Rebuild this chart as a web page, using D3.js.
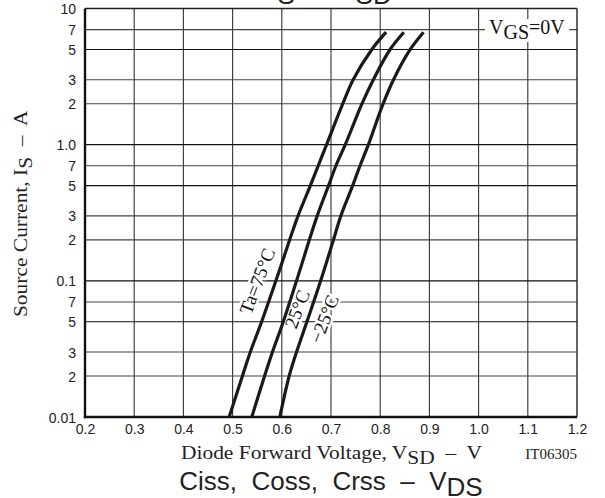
<!DOCTYPE html>
<html>
<head>
<meta charset="utf-8">
<script src="https://cdn.jsdelivr.net/npm/d3@7/dist/d3.min.js"></script>
<style>
  html, body { margin: 0; padding: 0; background: #fff; }
  svg { display: block; }
  text { white-space: pre; }
</style>
</head>
<body>
<svg id="chart" width="605" height="498"></svg>
<script>
// ---- data ----
const currents = [0.01, 0.02, 0.03, 0.05, 0.1, 0.2, 0.3, 0.5, 0.7, 1, 2, 3, 5, 6.7];
const vsd75  = [0.493, 0.520, 0.536, 0.559, 0.588, 0.616, 0.633, 0.658, 0.674, 0.691, 0.724, 0.745, 0.783, 0.812];
const vsd25  = [0.539, 0.565, 0.581, 0.603, 0.630, 0.656, 0.672, 0.695, 0.710, 0.729, 0.763, 0.786, 0.820, 0.848];
const vsdM25 = [0.596, 0.615, 0.630, 0.651, 0.679, 0.705, 0.720, 0.744, 0.759, 0.776, 0.806, 0.827, 0.861, 0.888];
const seriesNames = ["Ta=75°C", "25°C", "\u221225°C"];
const xTicks = [0.2, 0.3, 0.4, 0.5, 0.6, 0.7, 0.8, 0.9, 1.0, 1.1, 1.2];
const xTickLabels = ["0.2","0.3","0.4","0.5","0.6","0.7","0.8","0.9","1.0","1.1","1.2"];
const yTicks = [10, 7, 5, 3, 2, 1, 0.7, 0.5, 0.3, 0.2, 0.1, 0.07, 0.05, 0.03, 0.02, 0.01];
const yTickLabels = ["10","7","5","3","2","1.0","7","5","3","2","0.1","7","5","3","2","0.01"];

// ---- layout ----
const L = 85, R = 577, T = 8.5, B = 417;
const svg = d3.select("#chart");
const x = d3.scaleLinear().domain([0.2, 1.2]).range([L, R]);
const y = d3.scaleLog().domain([0.01, 10]).range([B, T]);

const serif = "'Liberation Serif','Times New Roman',serif";
const sans = "'Liberation Sans',Arial,sans-serif";
const stretch = 1.1;

// top title (mostly cut off at the top edge)
const topTitle = svg.append("text").attr("x", (L + R) / 2).attr("y", -2)
  .attr("text-anchor", "middle").style("font-family", sans).style("font-size", "26px").attr("fill", "#222");
topTitle.append("tspan").text("I");
topTitle.append("tspan").attr("dy", 6).text("S");
topTitle.append("tspan").attr("dy", -6).text("  \u2013  V");
topTitle.append("tspan").attr("dy", 6).text("SD");

// grid
const mant = d => d / Math.pow(10, Math.floor(Math.log10(d) + 1e-9));
const g = svg.append("g");
g.selectAll("line.v").data(xTicks.slice(1, -1)).enter().append("line")
  .attr("x1", d => x(d)).attr("x2", d => x(d)).attr("y1", T).attr("y2", B)
  .attr("stroke", "#333").attr("stroke-width", 1.1);
g.selectAll("line.h").data(yTicks.slice(1, -1)).enter().append("line")
  .attr("x1", L).attr("x2", R).attr("y1", d => y(d)).attr("y2", d => y(d))
  .attr("stroke", d => { const m = mant(d); return (Math.abs(m - 1) < 1e-6 || Math.abs(m - 5) < 1e-6) ? "#111" : "#444"; })
  .attr("stroke-width", d => Math.abs(mant(d) - 1) < 1e-6 ? 1.4 : 1.1);

// frame
svg.append("line").attr("x1", L).attr("x2", R).attr("y1", T).attr("y2", T).attr("stroke", "#222").attr("stroke-width", 1.4);
svg.append("line").attr("x1", R).attr("x2", R).attr("y1", T).attr("y2", B).attr("stroke", "#222").attr("stroke-width", 1.4);
svg.append("line").attr("x1", L).attr("x2", L).attr("y1", T).attr("y2", B + 1.2).attr("stroke", "#111").attr("stroke-width", 2.4);
svg.append("line").attr("x1", L - 1.2).attr("x2", R).attr("y1", B).attr("y2", B).attr("stroke", "#111").attr("stroke-width", 2.4);

// axis tick labels
const xAxis = d3.axisBottom(x).tickValues(xTicks).tickSize(0).tickPadding(0)
  .tickFormat((d, i) => xTickLabels[i]);
const xa = svg.append("g").attr("transform", `translate(0,${B})`).call(xAxis);
xa.select(".domain").remove();
xa.selectAll("text").attr("dy", 0).attr("y", 16.5).style("font-family", sans).style("font-size", "14px").attr("fill", "#222");

const yAxis = d3.axisLeft(y).tickValues(yTicks).tickSize(0).tickPadding(0)
  .tickFormat((d, i) => yTickLabels[i]);
const ya = svg.append("g").attr("transform", `translate(${L},0)`).call(yAxis);
ya.select(".domain").remove();
ya.selectAll("text").attr("x", -9).attr("dy", "0.36em").style("font-family", sans).style("font-size", "14px").attr("fill", "#222");

// V_GS label with white box
const vgs = svg.append("g");
const vbox = vgs.append("rect").attr("fill", "#fff");
const vt = vgs.append("text").attr("x", 489).attr("y", 34).style("font-family", serif).style("font-size", "20px").attr("fill", "#111");
vt.append("tspan").text("V");
vt.append("tspan").attr("dy", 5).text("GS");
vt.append("tspan").attr("dy", -5).text("=0V");
{
  const bb = vt.node().getBBox();
  vbox.attr("x", bb.x - 4).attr("y", bb.y + 3).attr("width", bb.width + 8).attr("height", bb.height - 4);
}

// curve labels (white halo hides grid)
const labelPos = [[257, 281], [297, 309], [324, 319]];
seriesNames.forEach((name, i) => {
  const [lx, ly] = labelPos[i];
  svg.append("text").attr("transform", `translate(${lx},${ly}) rotate(-69)`)
    .attr("text-anchor", "middle").attr("dy", "0.35em")
    .style("font-family", serif).style("font-size", "19px")
    .attr("fill", "#111").attr("stroke", "#fff").attr("stroke-width", 5)
    .attr("paint-order", "stroke").attr("stroke-linejoin", "round")
    .text(name);
});

// curves
const series = [vsd75, vsd25, vsdM25];
const line = d3.line().x(d => x(d[0])).y(d => y(d[1])).curve(d3.curveCatmullRom.alpha(0.5));
series.forEach(vals => {
  svg.append("path").datum(vals.map((v, i) => [v, currents[i]]))
    .attr("d", line).attr("fill", "none").attr("stroke", "#1a1a1a")
    .attr("stroke-width", 3.2).attr("stroke-linecap", "butt");
});

// y axis title
const yt = svg.append("text").attr("transform", `translate(27,${(T + B) / 2 + 1}) rotate(-90) scale(${stretch},1)`)
  .attr("text-anchor", "middle").style("font-family", serif).style("font-size", "19.5px").attr("fill", "#222");
yt.append("tspan").text("Source Current, I");
yt.append("tspan").attr("dy", 5).text("S");
yt.append("tspan").attr("dy", -5).text("  \u2013  A");

// x axis title
const xt = svg.append("text").attr("transform", `translate(181,459) scale(${stretch},1)`)
  .style("font-family", serif).style("font-size", "19.5px").attr("fill", "#222");
xt.append("tspan").text("Diode Forward Voltage, V");
xt.append("tspan").attr("dy", 4.5).text("SD");
xt.append("tspan").attr("dy", -4.5).text("  \u2013  V");

svg.append("text").attr("x", R).attr("y", 459).attr("text-anchor", "end")
  .style("font-family", serif).style("font-size", "15px").attr("fill", "#222").text("IT06305");

// bottom (next chart) title
const bt = svg.append("text").attr("x", (L + R) / 2).attr("y", 490)
  .attr("text-anchor", "middle").style("font-family", sans).style("font-size", "26px").attr("fill", "#222");
bt.append("tspan").text("Ciss,  Coss,  Crss  \u2013  V");
bt.append("tspan").attr("dy", 5.5).text("DS");
</script>
</body>
</html>
